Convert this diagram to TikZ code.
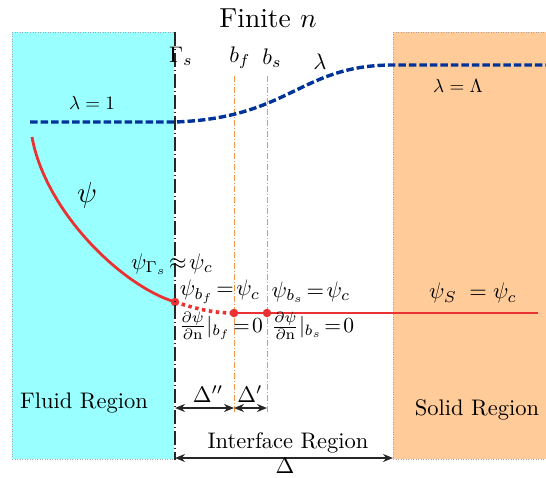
\documentclass[tikz,border=0pt]{standalone}
\usepackage{graphicx}
\usetikzlibrary{arrows.meta}
\definecolor{fluidc}{RGB}{153,255,255}
\definecolor{solidc}{RGB}{255,204,153}
\definecolor{lamc}{RGB}{0,51,153}
\definecolor{psic}{RGB}{235,50,50}
\definecolor{bndc}{RGB}{245,150,70}
\newcommand{\sxA}[1]{\scalebox{2.25}{#1}}
\newcommand{\sxB}[1]{\scalebox{1.9}{#1}}
\newcommand{\sxC}[1]{\scalebox{2.75}{#1}}
\newcommand{\sxD}[1]{\scalebox{2.15}{#1}}
\begin{document}
\begin{tikzpicture}[x=1pt,y=-1pt,
  region/.style={draw=gray!70,dotted,line width=0.5pt},
  lbl/.style={inner sep=0pt},
  lamline/.style={draw=lamc,line width=3.4pt,dash pattern=on 7.5pt off 3pt},
  psiline/.style={draw=psic,line width=2.8pt},
  psidot/.style={circle,fill=psic,inner sep=0pt,minimum size=8.5pt},
  gamline/.style={draw=black!85,line width=2.6pt,dash pattern=on 14pt off 3pt on 1pt off 3pt},
  bline/.style={draw=bndc,line width=0.8pt,dash pattern=on 6pt off 2pt on 1pt off 2pt},
  dimarrow/.style={draw=black!85,line width=1.8pt,{Stealth[length=10pt,width=8pt]}-{Stealth[length=10pt,width=8pt]}}
]
\useasboundingbox (0,0) rectangle (546,477);
% regions
\fill[fluidc] (12,32) rectangle (174,459);
\draw[region] (12,459) -- (12,32) -- (174,32);
\draw[region] (12,459) -- (174,459);
\fill[solidc] (393,32) rectangle (546,459);
\draw[region] (546,32) -- (393,32) -- (393,459) -- (546,459);
% coordinates
\coordinate (gtop) at (175,32);
\coordinate (gbot) at (175,460);
\coordinate (bftop) at (234,76);
\coordinate (bfbot) at (234,412);
\coordinate (bstop) at (267,76);
\coordinate (bsbot) at (267,412);
% boundary lines
\draw[bline] (bftop) -- (bfbot);
\draw[bline] (bstop) -- (bsbot);
% lambda
\coordinate (l0) at (30,122);
\coordinate (l1) at (175,122);
\coordinate (l2) at (393,65);
\coordinate (l3) at (546,65);
\draw[lamline] (l0) -- (l1) .. controls (290,118) and (300,65) .. (l2) -- (l3);
% psi curve
\coordinate (p0) at (32,137);
\node[psidot] (pg) at (175,302) {};
\node[psidot] (pf) at (234,313) {};
\node[psidot] (ps) at (267,313) {};
\coordinate (pe) at (538,313);
\draw[psiline] (p0) .. controls (45,210) and (120,285) .. (pg.center);
\draw[psic,line width=3.6pt,dash pattern=on 3.5pt off 3.5pt] (pg.center) .. controls (200,310) and (215,313) .. (pf.center);
\draw[psiline] (pf.center) -- (ps.center) -- (pe);
% Gamma line
\draw[gamline] (gtop) -- (gbot);
% dimension arrows
\coordinate (d1) at (175,408);
\coordinate (d2) at (234,408);
\coordinate (d3) at (267,408);
\coordinate (i1) at (175,458);
\coordinate (i2) at (393,458);
\draw[dimarrow] (d1) -- (d2);
\draw[dimarrow] (d2) -- (d3);
\draw[dimarrow] (i1) -- (i2);
% labels
\node[lbl] (title) at (268,18) {\sxC{Finite $n$}};
\node[lbl] (gam) at (181,56) {\sxA{$\Gamma_s$}};
\node[lbl] (bf) at (240,58) {\sxA{$b_f$}};
\node[lbl] (bs) at (272,58) {\sxA{$b_s$}};
\node[lbl] (lam) at (320,62) {\sxA{$\lambda$}};
\node[lbl] (lam1) at (92,103) {\sxB{$\lambda=1$}};
\node[lbl] (lamL) at (458,86) {\sxB{$\lambda=\Lambda$}};
\node[lbl] (psi) at (87,195) {\scalebox{2.9}{$\psi$}};
\node[lbl] (pgl) at (172,264) {\sxA{$\psi_{\Gamma_s}\!\approx\!\psi_c$}};
\node[lbl] (pfl) at (220,292) {\sxA{$\psi_{b_f}\!=\!\psi_c$}};
\node[lbl] (psl) at (311,292) {\sxA{$\psi_{b_s}\!=\!\psi_c$}};
\node[lbl] (pSl) at (473,293) {\sxA{$\psi_S\;=\psi_c$}};
\node[lbl] (dfl) at (221,326) {\sxD{$\frac{\partial\psi}{\partial\mathrm{n}}|_{b_f}\!=\!0$}};
\node[lbl] (dsl) at (313,326) {\sxD{$\frac{\partial\psi}{\partial\mathrm{n}}|_{b_s}\!=\!0$}};
\node[lbl] (fluid) at (84,403) {\sxA{Fluid Region}};
\node[lbl] (solid) at (477,410) {\sxA{Solid Region}};
\node[lbl] (dpp) at (208,394) {\sxA{$\Delta''$}};
\node[lbl] (dp) at (250,394) {\sxA{$\Delta'$}};
\node[lbl] (iface) at (288,443) {\sxA{Interface Region}};
\node[lbl] (del) at (285,466) {\sxA{$\Delta$}};
\end{tikzpicture}
\end{document}
